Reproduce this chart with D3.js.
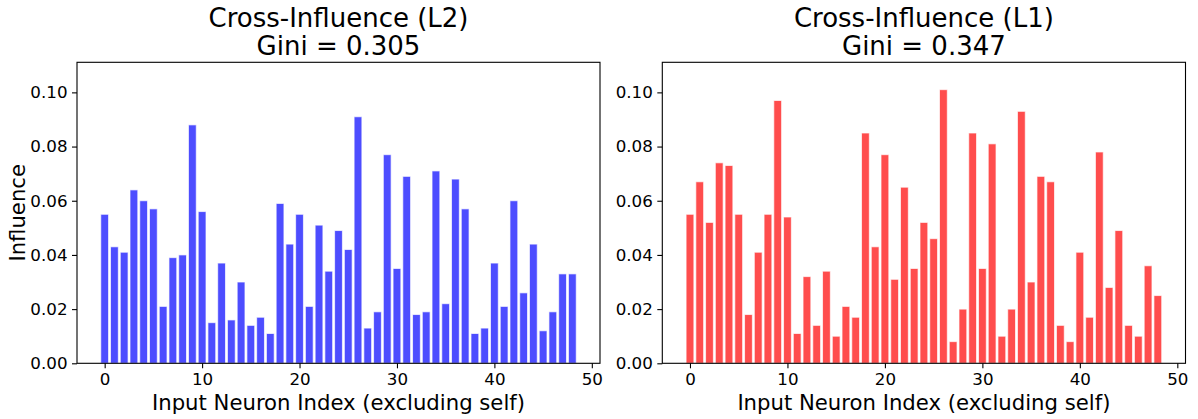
<!DOCTYPE html>
<html>
<head>
<meta charset="utf-8">
<script src="https://cdn.jsdelivr.net/npm/d3@7"></script>
<style>
  html, body { margin: 0; padding: 0; background: #fff; }
  svg { display: block; font-family: "DejaVu Sans", sans-serif; }
</style>
</head>
<body>
<svg id="chart" width="1198" height="419"></svg>
<script>
// Cross-influence per input neuron (self excluded), two norms
const l2Influence = [
  0.055, 0.043, 0.041, 0.064, 0.060, 0.057, 0.021, 0.039, 0.040, 0.088,
  0.056, 0.015, 0.037, 0.016, 0.030, 0.014, 0.017, 0.011, 0.059, 0.044,
  0.055, 0.021, 0.051, 0.034, 0.049, 0.042, 0.091, 0.013, 0.019, 0.077,
  0.035, 0.069, 0.018, 0.019, 0.071, 0.022, 0.068, 0.057, 0.011, 0.013,
  0.037, 0.021, 0.060, 0.026, 0.044, 0.012, 0.019, 0.033, 0.033
];
const l1Influence = [
  0.055, 0.067, 0.052, 0.074, 0.073, 0.055, 0.018, 0.041, 0.055, 0.097,
  0.054, 0.011, 0.032, 0.014, 0.034, 0.010, 0.021, 0.017, 0.085, 0.043,
  0.077, 0.031, 0.065, 0.035, 0.052, 0.046, 0.101, 0.008, 0.020, 0.085,
  0.035, 0.081, 0.010, 0.020, 0.093, 0.030, 0.069, 0.067, 0.014, 0.008,
  0.041, 0.017, 0.078, 0.028, 0.049, 0.014, 0.010, 0.036, 0.025
];
const neuronIndex = l2Influence.map((_, i) => i);

const xTickValues = [0, 10, 20, 30, 40, 50];
const yTickValues = [0.00, 0.02, 0.04, 0.06, 0.08, 0.10];
const yTickLabels = ["0.00", "0.02", "0.04", "0.06", "0.08", "0.10"];

const panels = [
  { title: "Cross-Influence (L2)", gini: "Gini = 0.305", values: l2Influence,
    color: "#4d4dff", left: 77, right: 600, ylabel: "Influence" },
  { title: "Cross-Influence (L1)", gini: "Gini = 0.347", values: l1Influence,
    color: "#ff4d4d", left: 662.3, right: 1185.5, ylabel: null }
];

const plotTop = 62.3, plotBottom = 363.3;
const barWidth = 0.8;
const yMax = 0.1111;

const svg = d3.select("#chart");

panels.forEach(p => {
  const n = p.values.length;
  const span = (n - 1 + barWidth);
  const pad = span * 0.05;
  const x = d3.scaleLinear()
    .domain([-barWidth / 2 - pad, n - 1 + barWidth / 2 + pad])
    .range([p.left, p.right]);
  const y = d3.scaleLinear().domain([0, yMax]).range([plotBottom, plotTop]);

  const g = svg.append("g");

  // bars
  g.append("g").selectAll("rect")
    .data(neuronIndex)
    .join("rect")
    .attr("x", i => x(i - barWidth / 2))
    .attr("width", i => x(i + barWidth / 2) - x(i - barWidth / 2))
    .attr("y", i => y(p.values[i]))
    .attr("height", i => y(0) - y(p.values[i]))
    .attr("fill", p.color)
    .attr("stroke", "#ffffff")
    .attr("stroke-opacity", 0.7)
    .attr("stroke-width", 1);

  // x axis
  const xAxis = g.append("g")
    .attr("transform", `translate(0,${plotBottom})`)
    .call(d3.axisBottom(x).tickValues(xTickValues).tickFormat(d3.format("d"))
      .tickSize(5).tickPadding(4.5));
  xAxis.select(".domain").remove();
  xAxis.selectAll("line").attr("stroke", "#000").attr("stroke-width", 1.1);
  xAxis.selectAll("text").attr("font-size", "16.7px").attr("fill", "#000")
    .attr("font-family", "DejaVu Sans");

  // y axis
  const yAxis = g.append("g")
    .attr("transform", `translate(${p.left},0)`)
    .call(d3.axisLeft(y).tickValues(yTickValues)
      .tickFormat((d, i) => yTickLabels[i]).tickSize(5).tickPadding(4.5));
  yAxis.select(".domain").remove();
  yAxis.selectAll("line").attr("stroke", "#000").attr("stroke-width", 1.1);
  yAxis.selectAll("text").attr("font-size", "16.7px").attr("fill", "#000")
    .attr("font-family", "DejaVu Sans");

  // frame
  g.append("rect")
    .attr("x", p.left).attr("y", plotTop)
    .attr("width", p.right - p.left).attr("height", plotBottom - plotTop)
    .attr("fill", "none").attr("stroke", "#000").attr("stroke-width", 1.1);

  const cx = (p.left + p.right) / 2;

  // titles
  g.append("text").attr("x", cx).attr("y", 27)
    .attr("text-anchor", "middle").attr("font-size", "26px").text(p.title);
  g.append("text").attr("x", cx).attr("y", 55)
    .attr("text-anchor", "middle").attr("font-size", "26px").text(p.gini);

  // x label
  g.append("text").attr("x", cx).attr("y", 410)
    .attr("text-anchor", "middle").attr("font-size", "21.2px")
    .text("Input Neuron Index (excluding self)");

  // y label
  if (p.ylabel) {
    g.append("text")
      .attr("transform", `translate(24.5,${(plotTop + plotBottom) / 2}) rotate(-90)`)
      .attr("text-anchor", "middle").attr("font-size", "21.2px")
      .text(p.ylabel);
  }
});
</script>
</body>
</html>
